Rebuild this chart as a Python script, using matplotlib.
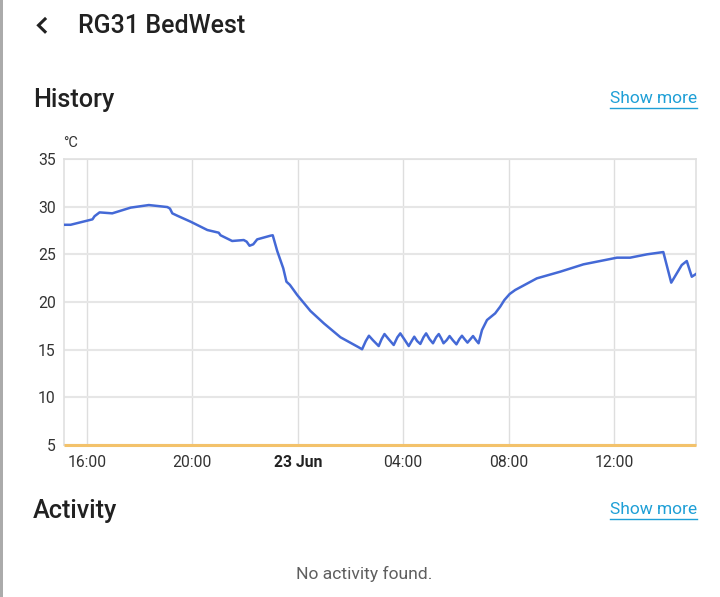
import matplotlib.pyplot as plt
from matplotlib.lines import Line2D
from matplotlib.patches import Rectangle

plt.rcParams['font.family'] = ['Roboto', 'DejaVu Sans']

# hours relative to 00:00 on 23 Jun
hours = [-8.87, -8.62, -7.79, -7.71, -7.52, -7.04, -6.34, -5.65, -4.95, -4.85,
         -4.76, -4.57, -4.07, -3.43, -3.00, -2.93, -2.49, -2.05, -1.94, -1.83,
         -1.69, -1.54, -1.03, -0.95, -0.78, -0.55, -0.43, -0.30, -0.02, 0.48,
         0.99, 1.62, 2.31, 2.44, 2.58, 2.70, 2.85, 3.07, 3.18, 3.29, 3.45,
         3.64, 3.78, 3.89, 4.04, 4.21, 4.32, 4.42, 4.53, 4.65, 4.77, 4.87,
         5.00, 5.13, 5.25, 5.35, 5.44, 5.53, 5.65, 5.76, 5.88, 6.02, 6.13,
         6.23, 6.33, 6.44, 6.55, 6.65, 6.76, 6.86, 6.99, 7.18, 7.49, 7.68,
         7.84, 8.04, 8.25, 9.07, 9.96, 10.84, 12.11, 12.61, 13.25, 13.87,
         14.17, 14.57, 14.76, 14.95, 15.11]
temps = [28.1, 28.1, 28.67, 29.0, 29.4, 29.3, 29.9, 30.17, 29.96, 29.8,
         29.3, 29.05, 28.43, 27.55, 27.27, 27.0, 26.4, 26.5, 26.33, 25.9,
         26.05, 26.57, 26.96, 27.0, 25.35, 23.53, 22.13, 21.8, 20.73, 19.06,
         17.76, 16.3, 15.25, 15.04, 15.9, 16.46, 16.0, 15.38, 16.1, 16.64, 16.1,
         15.49, 16.3, 16.71, 16.1, 15.38, 15.9, 16.36, 15.9, 15.6, 16.3, 16.71,
         16.1, 15.67, 16.3, 16.64, 16.2, 15.67, 16.0, 16.43, 16.0, 15.56, 16.1,
         16.46, 16.1, 15.74, 16.1, 16.43, 16.0, 15.67, 17.06, 18.11, 18.81, 19.51,
         20.21, 20.84, 21.26, 22.48, 23.18, 23.95, 24.65, 24.65, 25.0, 25.24,
         22.03, 23.88, 24.3, 22.65, 22.94]
setpoint_hours = [-8.87, 15.11]
setpoint = [5, 5]

x_ticks = [-8, -4, 0, 4, 8, 12]
x_labels = ['16:00', '20:00', '23 Jun', '04:00', '08:00', '12:00']
y_ticks = [5, 10, 15, 20, 25, 30, 35]

W, H = 720, 597
fig = plt.figure(figsize=(W / 100, H / 100), dpi=100)


def px(x, y):
    return x / W, 1 - y / H


# dialog edge on the left
fig.add_artist(Rectangle((0, 0), 3 / W, 1, transform=fig.transFigure,
                         color='#ababab', lw=0))

# back chevron
cx, cy = zip(px(45, 19), px(38.5, 25.3), px(45, 31.7))
fig.add_artist(Line2D(cx, cy, transform=fig.transFigure, color='#212121',
                      lw=2.2, solid_joinstyle='miter'))
fig.text(*px(78, 26), 'RG31 BedWest', fontsize=18, weight='medium',
         color='#212121', va='center')

for y_head, label in [(99, 'History'), (510, 'Activity')]:
    fig.text(*px(33, y_head + 1), label, fontsize=18.2, weight='medium',
             color='#212121', va='center')
    fig.text(*px(697, y_head), 'Show more', fontsize=12.5, color='#1e9fd6',
             ha='right', va='center')
    x0, y0 = px(610, y_head + 9)
    x1, _ = px(697, y_head + 9)
    fig.add_artist(Line2D([x0, x1], [y0, y0], transform=fig.transFigure,
                          color='#1e9fd6', lw=1))

fig.text(*px(364, 574), 'No activity found.', fontsize=12.6, color='#5f5f5f',
         ha='center', va='center')

l, b = px(64, 445)
r, t = px(696, 159)
ax = fig.add_axes([l, b, r - l, t - b])

ax.plot(setpoint_hours, setpoint, color='#f3c26b', lw=2.2, zorder=3,
        solid_capstyle='butt', clip_on=False)
ax.plot(hours, temps, color='#4469d6', lw=1.8, zorder=4)

ax.set_xlim(hours[0], hours[-1])
ax.set_ylim(5, 35)
ax.set_xticks(x_ticks)
ax.set_xticklabels(x_labels)
ax.set_yticks(y_ticks)
ax.grid(True, axis='y', color='#e6e6e6', lw=1.5)
ax.grid(True, axis='x', color='#dedede', lw=1)
for s in ax.spines.values():
    s.set_color('#e0e0e0')
    s.set_linewidth(1.2)
ax.tick_params(length=0, labelsize=11.3, colors='#333333', pad=7)
ax.tick_params(axis='y', pad=6)
for lab in ax.get_xticklabels():
    if lab.get_text() == '23 Jun':
        lab.set_fontweight('bold')
        lab.set_color('#222222')

fig.text(*px(63, 143), '°C', fontsize=10.5, color='#333333', va='center')

fig.savefig('out.png', dpi=100)
